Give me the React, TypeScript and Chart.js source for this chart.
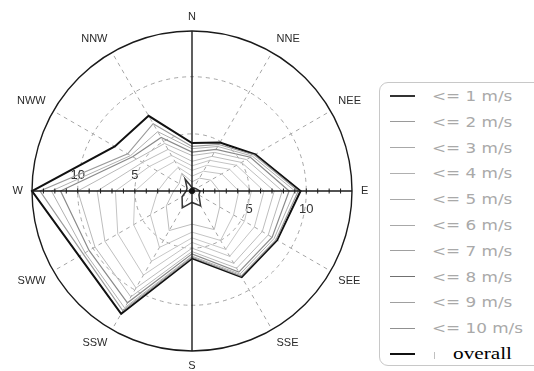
import React, { useEffect, useRef } from "react";
import { Chart, registerables } from "chart.js";

Chart.register(...registerables);

// Compass sectors, clockwise from north
const directions = ["N", "NNE", "NEE", "E", "SEE", "SSE", "S", "SSW", "SWW", "W", "NWW", "NNW"];

// Cumulative frequency per sector for each wind-speed class
const upTo1 = [0.3, 0.3, 0.4, 0.7, 0.7, 1.5, 1.0, 1.7, 1.0, 0.5, 0.5, 1.2];
const upTo2 = [0.8, 1.3, 1.9, 2.4, 2.8, 3.9, 2.9, 4.0, 2.6, 1.6, 1.3, 1.8];
const upTo3 = [1.3, 2.0, 3.0, 4.1, 4.2, 5.0, 3.6, 5.7, 4.2, 3.0, 2.4, 2.4];
const upTo4 = [1.8, 2.6, 3.8, 5.2, 5.3, 5.9, 4.1, 7.1, 5.9, 5.0, 3.5, 3.0];
const upTo5 = [2.2, 3.1, 4.5, 6.3, 6.3, 6.6, 4.5, 8.5, 7.5, 6.7, 4.3, 3.6];
const upTo6 = [2.6, 3.5, 5.0, 7.2, 7.1, 7.3, 5.0, 9.8, 8.8, 8.3, 5.0, 4.2];
const upTo7 = [3.1, 3.9, 5.5, 7.9, 7.7, 7.8, 5.3, 10.7, 9.8, 10.0, 5.6, 4.8];
const upTo8 = [3.4, 4.2, 5.9, 8.5, 8.1, 8.2, 5.5, 11.3, 10.4, 11.5, 6.0, 5.4];
const upTo9 = [3.7, 4.5, 6.1, 9.0, 8.3, 8.4, 5.7, 11.8, 10.8, 12.3, 6.2, 6.0];
const upTo10 = [3.9, 4.7, 6.3, 9.3, 8.5, 8.6, 5.8, 12.1, 11.0, 13.3, 6.5, 6.8];
const overall = [4.2, 4.9, 6.4, 9.5, 8.6, 8.7, 5.9, 12.4, 11.4, 14.0, 7.8, 7.6];

const speedClasses = [
  "<= 1 m/s", "<= 2 m/s", "<= 3 m/s", "<= 4 m/s", "<= 5 m/s",
  "<= 6 m/s", "<= 7 m/s", "<= 8 m/s", "<= 9 m/s", "<= 10 m/s",
];
const overallLabel = "overall";

const ringValues = [5, 10];
const radialMax = 14;

const seriesValues = [upTo1, upTo2, upTo3, upTo4, upTo5, upTo6, upTo7, upTo8, upTo9, upTo10, overall];
const seriesColors = ["#333333", "#bdbdbd", "#c4c4c4", "#c8c8c8", "#c4c4c4", "#bdbdbd", "#b8b8b8", "#8a8a8a", "#b0b0b0", "#9a9a9a", "#111111"];
const seriesWidths = [1.5, 1, 1, 1, 1, 1, 1, 1.2, 1, 1.2, 2];
const legendLineColors = ["#333333", "#9a9a9a", "#a8a8a8", "#b0b0b0", "#a8a8a8", "#a8a8a8", "#a0a0a0", "#707070", "#a0a0a0", "#909090", "#111111"];

const roseFrame = {
  id: "roseFrame",
  beforeDatasetsDraw(chart: any) {
    const s = chart.scales.r;
    const ctx = chart.ctx;
    const cx = s.xCenter;
    const cy = s.yCenter;
    const outer = s.getDistanceFromCenterForValue(radialMax);
    ctx.save();
    ctx.strokeStyle = "#a6a6a6";
    ctx.lineWidth = 1;
    ctx.setLineDash([4, 4]);
    ringValues.forEach((v) => {
      const r = s.getDistanceFromCenterForValue(v);
      ctx.beginPath();
      ctx.arc(cx, cy, r, 0, Math.PI * 2);
      ctx.stroke();
    });
    directions.forEach((_, i) => {
      if (i % 3 === 0) return;
      const p = s.getPointPosition(i, outer);
      ctx.beginPath();
      ctx.moveTo(cx, cy);
      ctx.lineTo(p.x, p.y);
      ctx.stroke();
    });
    ctx.setLineDash([]);
    ctx.fillStyle = "#333";
    ctx.font = "13px 'Liberation Sans', Arial, sans-serif";
    ctx.textAlign = "center";
    ctx.textBaseline = "middle";
    ringValues.forEach((v) => {
      const r = s.getDistanceFromCenterForValue(v);
      ctx.fillText(String(v), cx - r, cy - 16);
      ctx.fillText(String(v), cx + r, cy + 18);
    });
    ctx.restore();
  },
  afterDatasetsDraw(chart: any) {
    const s = chart.scales.r;
    const ctx = chart.ctx;
    const cx = s.xCenter;
    const cy = s.yCenter;
    const outer = s.getDistanceFromCenterForValue(radialMax);
    ctx.save();
    ctx.strokeStyle = "#1a1a1a";
    ctx.lineWidth = 1.4;
    ctx.beginPath();
    ctx.arc(cx, cy, outer, 0, Math.PI * 2);
    ctx.stroke();
    [0, 3].forEach((i) => {
      const a = s.getPointPosition(i, outer);
      const b = s.getPointPosition(i + 6, outer);
      ctx.beginPath();
      ctx.moveTo(a.x, a.y);
      ctx.lineTo(b.x, b.y);
      ctx.stroke();
    });
    ctx.lineWidth = 1;
    for (let v = 1; v < radialMax; v++) {
      const r = s.getDistanceFromCenterForValue(v);
      [cx - r, cx + r].forEach((x) => {
        ctx.beginPath();
        ctx.moveTo(x, cy - 2.5);
        ctx.lineTo(x, cy + 2.5);
        ctx.stroke();
      });
    }
    ctx.fillStyle = "#111";
    ctx.beginPath();
    ctx.arc(cx, cy, 3, 0, Math.PI * 2);
    ctx.fill();
    ctx.restore();
  },
};

function Legend() {
  const top = 82;
  const rowY = (i: number) => 95 + i * 25.8 - top;
  return (
    <div
      style={{
        position: "absolute",
        left: 379,
        top,
        width: 170,
        height: 284,
        border: "1px solid #c8c8c8",
        borderRadius: 9,
        boxSizing: "border-box",
      }}
    >
      {speedClasses.map((label, i) => (
        <div key={label}>
          <div
            style={{
              position: "absolute",
              left: 10,
              top: rowY(i) - (i === 0 ? 1 : 0.5),
              width: 25,
              height: i === 0 ? 2 : 1,
              background: legendLineColors[i],
            }}
          />
          <div
            style={{
              position: "absolute",
              left: 52,
              top: rowY(i) - 9,
              height: 18,
              lineHeight: "18px",
              fontFamily: "'DejaVu Sans', sans-serif",
              fontSize: 14,
              color: "#a9a9a9",
              whiteSpace: "nowrap",
              transform: "scaleX(1.2)",
              transformOrigin: "left center",
            }}
          >
            {label}
          </div>
        </div>
      ))}
      <div
        style={{
          position: "absolute",
          left: 10,
          top: rowY(10) - 1,
          width: 25,
          height: 2,
          background: legendLineColors[10],
        }}
      />
      <div
        style={{
          position: "absolute",
          left: 54,
          top: rowY(10) - 2,
          width: 1,
          height: 7,
          background: "#c0c0c0",
        }}
      />
      <div
        style={{
          position: "absolute",
          left: 73,
          top: rowY(10) - 11,
          height: 22,
          lineHeight: "22px",
          fontFamily: "'Liberation Serif', 'Times New Roman', serif",
          fontSize: 17,
          color: "#000",
          whiteSpace: "nowrap",
          transform: "scaleX(1.25)",
          transformOrigin: "left center",
        }}
      >
        {overallLabel}
      </div>
    </div>
  );
}

export default function App() {
  const canvasRef = useRef<HTMLCanvasElement | null>(null);

  useEffect(() => {
    if (!canvasRef.current) return;
    const labels = [...speedClasses, overallLabel];
    const chart = new Chart(canvasRef.current, {
      type: "radar",
      data: {
        labels: directions,
        datasets: seriesValues.map((values, i) => ({
          label: labels[i],
          data: values,
          borderColor: seriesColors[i],
          borderWidth: seriesWidths[i],
          backgroundColor: "transparent",
          fill: false,
          pointRadius: 0,
          pointHoverRadius: 0,
          tension: 0,
        })),
      },
      options: {
        animation: false,
        responsive: false,
        events: [],
        layout: { padding: { left: 11, top: 11, right: 1, bottom: 0 } },
        plugins: {
          legend: { display: false },
          tooltip: { enabled: false },
        },
        scales: {
          r: {
            min: 0,
            max: radialMax,
            ticks: { display: false },
            grid: { display: false },
            angleLines: { display: false },
            pointLabels: {
              display: true,
              padding: 9,
              color: "#2a2a2a",
              font: { family: "'Liberation Sans', Arial, sans-serif", size: 11, lineHeight: 1 },
            },
          },
        },
      },
      plugins: [roseFrame],
    });
    return () => chart.destroy();
  }, []);

  return (
    <div style={{ position: "absolute", left: 0, top: 0, width: 534, height: 371, overflow: "hidden", background: "#fff" }}>
      <canvas ref={canvasRef} width={372} height={371} style={{ position: "absolute", left: 0, top: 0 }} />
      <Legend />
    </div>
  );
}
